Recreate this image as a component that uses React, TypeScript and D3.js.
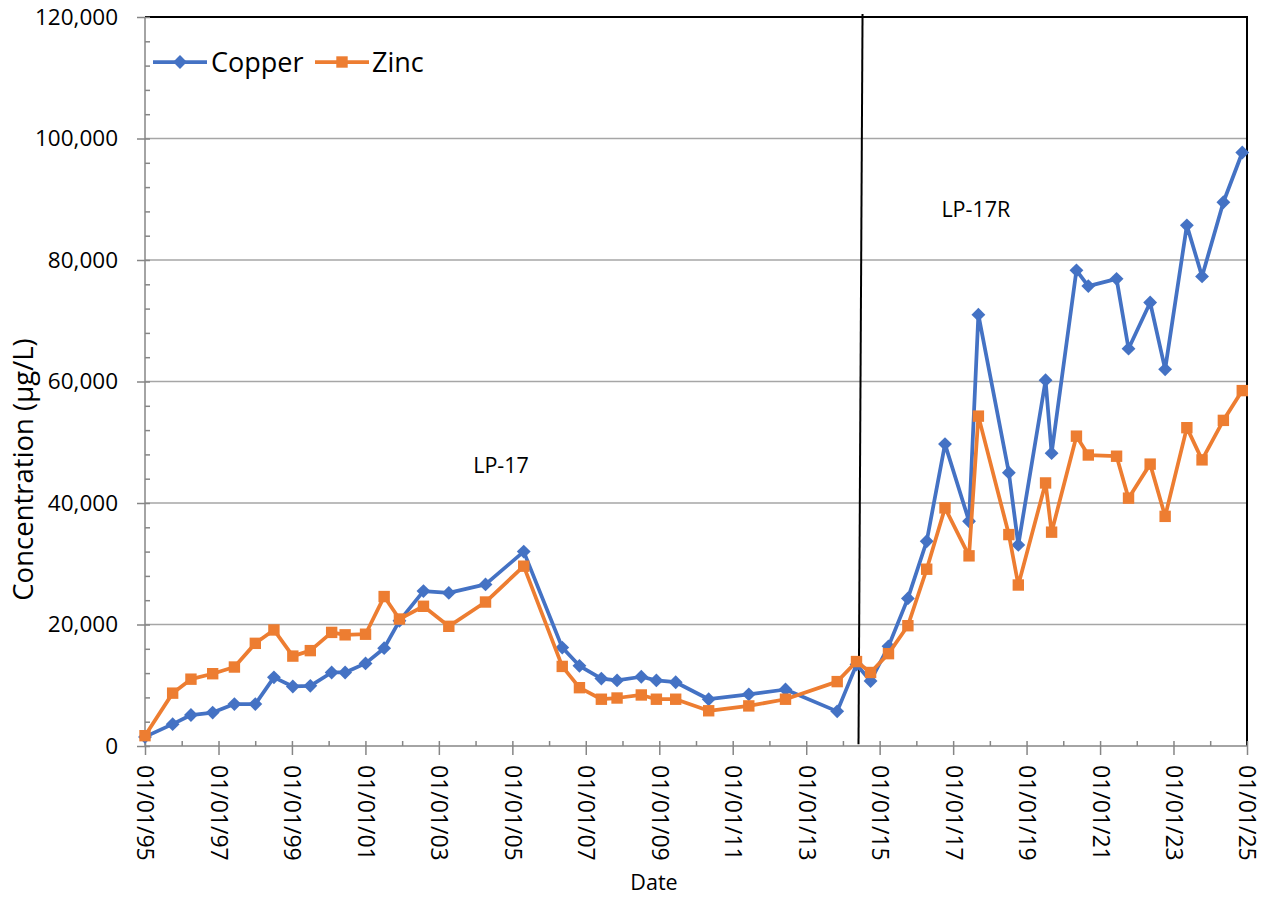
import React, { useEffect, useRef } from 'react';
import * as d3 from 'd3';

// sample dates shared by both series
const sampleDates = [
  '1995-01-01', '1995-10-03', '1996-04-02', '1996-11-04', '1997-06-08', '1998-01-02',
  '1998-07-06', '1999-01-10', '1999-07-03', '2000-01-31', '2000-06-13', '2001-01-02',
  '2001-07-06', '2001-12-05', '2002-08-01', '2003-04-10', '2004-04-09', '2005-04-24',
  '2006-05-12', '2006-10-30', '2007-06-05', '2007-11-08', '2008-07-06', '2008-12-03',
  '2009-06-13', '2010-05-07', '2011-06-10', '2012-06-09', '2013-11-05', '2014-05-16',
  '2014-10-03', '2015-03-30', '2015-10-09', '2016-04-13', '2016-10-12', '2017-06-08',
  '2017-09-09', '2018-07-09', '2018-10-11', '2019-07-09', '2019-09-07', '2020-05-11',
  '2020-09-06', '2021-06-14', '2021-10-11', '2022-05-14', '2022-10-10', '2023-05-14',
  '2023-10-12', '2024-05-11', '2024-11-15'
];

const copper = [
  1500, 3600, 5100, 5500, 6900, 6900, 11300, 9800, 9900, 12100, 12100, 13600,
  16100, 20600, 25500, 25200, 26600, 32000, 16200, 13200, 11100, 10800, 11400, 10800,
  10500, 7700, 8500, 9300, 5700, 13400, 10700, 16400, 24300, 33700, 49700, 37000,
  71000, 45000, 33100, 60200, 48200, 78300, 75700, 76900, 65400, 73000, 62000, 85700,
  77300, 89500, 97700
];

const zinc = [
  1700, 8700, 11000, 11900, 13000, 16900, 19100, 14800, 15700, 18700, 18300, 18400,
  24600, 20900, 23000, 19700, 23700, 29600, 13100, 9600, 7700, 7900, 8400, 7700,
  7700, 5800, 6600, 7700, 10600, 13900, 12100, 15200, 19800, 29100, 39200, 31300,
  54300, 34800, 26500, 43300, 35200, 51000, 47900, 47700, 40800, 46400, 37800, 52400,
  47100, 53600, 58500
];

const seriesNames = ['Copper', 'Zinc'];
const seriesColors = ['#4472C4', '#ED7D31'];
const yTicks = [0, 20000, 40000, 60000, 80000, 100000, 120000];
const xTickYears = d3.range(1995, 2026, 2);

// site change annotation
const dividerTop = { date: '2014-07-15', value: 120500 };
const dividerBottom = { date: '2014-06-05', value: 300 };
const siteLabels = [
  { text: 'LP-17', date: '2004-09-10', value: 45000 },
  { text: 'LP-17R', date: '2017-08-15', value: 87000 }
];

const App = () => {
  const svgRef = useRef(null);

  useEffect(() => {
    d3.select('body').style('margin', 0);
    const W = 1268;
    const H = 901;
    const left = 145, right = 1247, top = 17, bottom = 746;
    const font = "'Open Sans', sans-serif";
    const parse = d3.timeParse('%Y-%m-%d');

    const svg = d3.select(svgRef.current).attr('width', W).attr('height', H);
    svg.selectAll('*').remove();
    svg.append('rect').attr('width', W).attr('height', H).attr('fill', '#fff');

    const x = d3.scaleTime()
      .domain([new Date(1995, 0, 1), new Date(2025, 0, 1)])
      .range([left, right]);
    const y = d3.scaleLinear().domain([0, 120000]).range([bottom, top]);

    // gridlines
    svg.append('g')
      .selectAll('line')
      .data(yTicks.slice(1, -1))
      .enter()
      .append('line')
      .attr('x1', left).attr('x2', right)
      .attr('y1', (d) => y(d)).attr('y2', (d) => y(d))
      .attr('stroke', '#a6a6a6').attr('stroke-width', 1.5);

    // top / right border
    svg.append('path')
      .attr('d', `M${left},${top}H${right}V${bottom}`)
      .attr('fill', 'none').attr('stroke', '#000').attr('stroke-width', 2);

    // y axis
    const yAxis = svg.append('g')
      .attr('transform', `translate(${left},0)`)
      .call(d3.axisLeft(y).tickValues(yTicks).tickSize(8).tickPadding(19).tickFormat(d3.format(',')));
    yAxis.append('g')
      .call(d3.axisRight(y).tickValues(d3.range(0, 120001, 4000)).tickSize(5).tickFormat(() => ''));
    yAxis.selectAll('path').remove();
    yAxis.append('line').attr('y1', top).attr('y2', bottom);
    yAxis.selectAll('line').attr('stroke', '#868686').attr('stroke-width', 1.5);
    yAxis.selectAll('text').attr('font-family', font).attr('font-size', 22.5).attr('fill', '#000');

    // x axis
    const xAxis = svg.append('g')
      .attr('transform', `translate(0,${bottom})`)
      .call(d3.axisBottom(x)
        .tickValues(xTickYears.map((yr) => new Date(yr, 0, 1)))
        .tickSize(9)
        .tickFormat(d3.timeFormat('%m/%d/%y')));
    xAxis.append('g')
      .call(d3.axisTop(x).ticks(d3.timeYear.every(1)).tickSize(5).tickFormat(() => ''));
    xAxis.selectAll('path').remove();
    xAxis.append('line').attr('x1', left).attr('x2', right);
    xAxis.selectAll('line').attr('stroke', '#868686').attr('stroke-width', 1.5);
    xAxis.selectAll('text')
      .attr('transform', 'rotate(90)')
      .attr('x', 19).attr('y', 0).attr('dy', '0.35em')
      .style('text-anchor', 'start')
      .attr('font-family', font).attr('font-size', 23).attr('fill', '#000');

    // axis titles
    svg.append('text')
      .attr('transform', `translate(33,${(top + bottom) / 2 + 88}) rotate(-90)`)
      .attr('text-anchor', 'middle')
      .attr('font-family', font).attr('font-size', 27.5)
      .text('Concentration (µg/L)');
    svg.append('text')
      .attr('x', 654).attr('y', 890)
      .attr('text-anchor', 'middle')
      .attr('font-family', font).attr('font-size', 21.5)
      .text('Date');

    // divider between wells
    svg.append('line')
      .attr('x1', x(parse(dividerTop.date))).attr('y1', y(dividerTop.value))
      .attr('x2', x(parse(dividerBottom.date))).attr('y2', y(dividerBottom.value))
      .attr('stroke', '#000').attr('stroke-width', 2);

    svg.selectAll('.site')
      .data(siteLabels)
      .enter()
      .append('text')
      .attr('x', (d) => x(parse(d.date)))
      .attr('y', (d) => y(d.value))
      .attr('text-anchor', 'middle')
      .attr('font-family', font).attr('font-size', 21.5)
      .text((d) => d.text);

    // diamond = square turned 45deg
    const diamond = d3.symbol().type(d3.symbolSquare).size(96)();
    const square = d3.symbol().type(d3.symbolSquare).size(130)();

    [copper, zinc].forEach((vals, i) => {
      const pts = sampleDates.map((d, j) => ({ date: parse(d), value: vals[j] }));
      const line = d3.line().x((d) => x(d.date)).y((d) => y(d.value));
      svg.append('path')
        .datum(pts)
        .attr('d', line)
        .attr('fill', 'none')
        .attr('stroke', seriesColors[i])
        .attr('stroke-width', 3.75)
        .attr('stroke-linejoin', 'round');
      svg.append('g')
        .selectAll('path')
        .data(pts)
        .enter()
        .append('path')
        .attr('d', i === 0 ? diamond : square)
        .attr('transform', (d) => `translate(${x(d.date)},${y(d.value)})${i === 0 ? ' rotate(45)' : ''}`)
        .attr('fill', seriesColors[i]);
    });

    // legend
    const legendPos = [
      { x0: 153, tx: 211 },
      { x0: 315, tx: 372 }
    ];
    seriesNames.forEach((name, i) => {
      const g = svg.append('g').attr('transform', `translate(${legendPos[i].x0},62)`);
      g.append('line').attr('x1', 0).attr('x2', 54)
        .attr('stroke', seriesColors[i]).attr('stroke-width', 3.75);
      g.append('path')
        .attr('d', i === 0 ? diamond : square)
        .attr('transform', `translate(27,0)${i === 0 ? ' rotate(45)' : ''}`)
        .attr('fill', seriesColors[i]);
      svg.append('text')
        .attr('x', legendPos[i].tx).attr('y', 72)
        .attr('font-family', font).attr('font-size', 27)
        .text(name);
    });
  }, []);

  return <svg ref={svgRef} style={{ display: 'block' }}></svg>;
};

export default App;
